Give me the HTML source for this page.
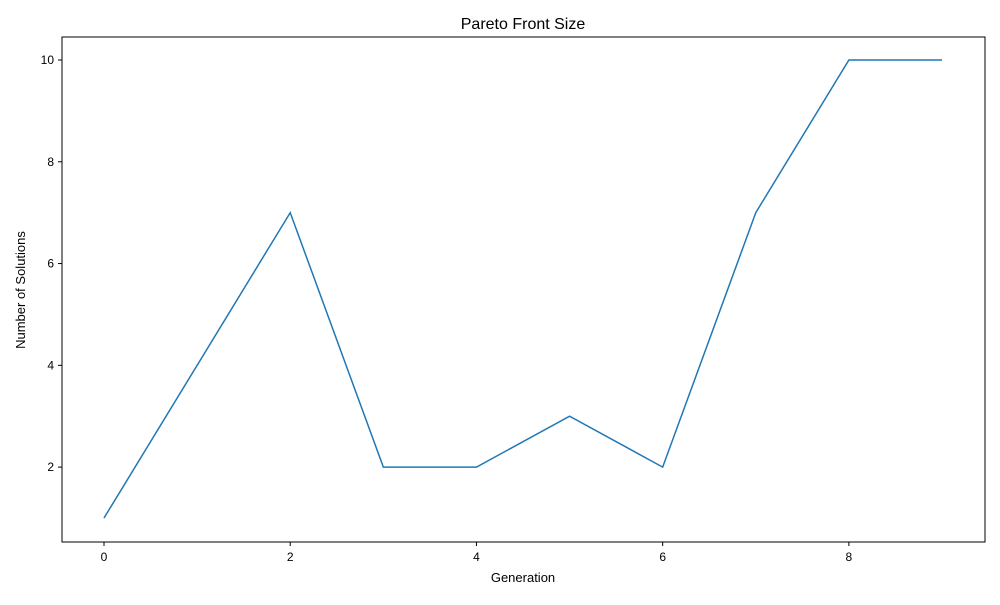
<!DOCTYPE html>
<html><head><meta charset="utf-8"><style>
body{margin:0;background:#fff;font-family:"Liberation Sans","DejaVu Sans",sans-serif}
</style></head><body>
<svg id="chart" width="1000" height="600" xmlns="http://www.w3.org/2000/svg">
<rect width="1000" height="600" fill="#fff"/>
<text x="523" y="29" font-size="16" text-anchor="middle">Pareto Front Size</text>
<text x="523" y="582" font-size="13" text-anchor="middle">Generation</text>
<text x="25" y="290" font-size="13" text-anchor="middle" transform="rotate(-90 25 290)">Number of Solutions</text>
<g id="xt"></g>
<g id="yt"></g>
<path id="line" fill="none" stroke="#1f77b4" stroke-width="1.5"/>
<rect x="62" y="37" width="923" height="505" fill="none" stroke="#000" stroke-width="1"/>
</svg>
<script>
const generations=[0,1,2,3,4,5,6,7,8,9];
const solutions=[1,4,7,2,2,3,2,7,10,10];
const xTicks=[0,2,4,6,8];
const yTicks=[2,4,6,8,10];
const X=v=>104+(942-104)*v/9;
const Y=v=>518-(518-60)*(v-1)/9;
const ns="http://www.w3.org/2000/svg";
const xt=document.getElementById('xt'),yt=document.getElementById('yt');
xTicks.forEach(t=>{
 const l=document.createElementNS(ns,'line');
 
 
 l.setAttribute('x1',X(t));l.setAttribute('x2',X(t));l.setAttribute('y1',542);l.setAttribute('y2',546);l.setAttribute('stroke','#000');
 xt.appendChild(l);
 const s=document.createElementNS(ns,'text');
 
 
 s.setAttribute('x',X(t));s.setAttribute('y',561);s.setAttribute('font-size','12');s.setAttribute('text-anchor','middle');
 s.textContent=t;xt.appendChild(s);
});
yTicks.forEach(t=>{
 const l=document.createElementNS(ns,'line');
 
 
 l.setAttribute('x1',58);l.setAttribute('x2',62);l.setAttribute('y1',Y(t));l.setAttribute('y2',Y(t));l.setAttribute('stroke','#000');
 yt.appendChild(l);
 const s=document.createElementNS(ns,'text');
 
 
 s.setAttribute('x',54);s.setAttribute('y',Y(t)+4);s.setAttribute('font-size','12');s.setAttribute('text-anchor','end');
 s.textContent=t;yt.appendChild(s);
});
document.getElementById('line').setAttribute('d',generations.map((g,i)=>(i?'L':'M')+X(g)+','+Y(solutions[i])).join(''));
</script>
</body></html>
